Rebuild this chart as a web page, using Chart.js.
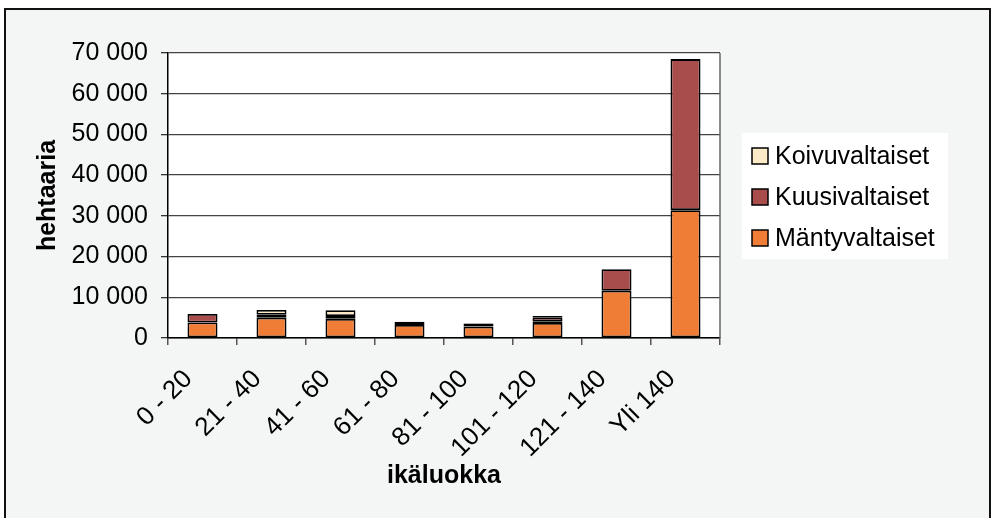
<!DOCTYPE html>
<html>
<head>
<meta charset="utf-8">
<script src="https://cdn.jsdelivr.net/npm/chart.js@4.4.1/dist/chart.umd.min.js"></script>
<style>
	html, body { margin: 0; padding: 0; background: #fff; }
	#wrap { width: 991px; height: 518px; }
</style>
</head>
<body>
<div id="wrap"><canvas id="chart" width="991" height="518"></canvas></div>
<script>
const categories = ['0 - 20', '21 - 40', '41 - 60', '61 - 80', '81 - 100', '101 - 120', '121 - 140', 'Yli 140'];
const mantyvaltaiset = [3800, 5000, 4700, 3200, 2800, 3700, 11600, 31400];
const muut = [0, 0, 0, 0, 0, 400, 0, 0];
const kuusivaltaiset = [2100, 700, 700, 700, 700, 1000, 5300, 37100];
const koivuvaltaiset = [0, 1200, 1400, 100, 100, 300, 0, 0];
const yMax = 70000;
const yStep = 10000;

const FONT = 'Liberation Sans, Arial, sans-serif';

// frame, grey background, white plot area
const backdrop = {
	id: 'backdrop',
	beforeDraw(chart) {
		const { ctx, chartArea: a } = chart;
		ctx.save();
		ctx.fillStyle = '#ffffff';
		ctx.fillRect(0, 0, chart.width, chart.height);
		ctx.fillStyle = '#f4f6f5';
		ctx.fillRect(5, 9, 985, 520);
		ctx.strokeStyle = '#111';
		ctx.lineWidth = 2;
		ctx.strokeRect(5, 9, 985, 520);
		ctx.fillStyle = '#ffffff';
		ctx.fillRect(a.left, a.top, a.right - a.left, a.bottom - a.top);
		ctx.restore();
	},
	afterDatasetsDraw(chart) {
		const { ctx, chartArea: a } = chart;
		ctx.save();
		ctx.strokeStyle = '#666';
		ctx.lineWidth = 1.5;
		ctx.beginPath();
		ctx.moveTo(a.right, a.top);
		ctx.lineTo(a.right, a.bottom);
		ctx.stroke();
		ctx.restore();
	}
};

// excel style legend box on the right
const boxLegend = {
	id: 'boxLegend',
	afterDraw(chart) {
		const { ctx } = chart;
		const items = chart.data.datasets.filter(d => d.label).reverse();
		ctx.save();
		ctx.fillStyle = '#ffffff';
		ctx.fillRect(742, 133, 206, 126);
		ctx.font = '25px ' + FONT;
		ctx.textBaseline = 'middle';
		items.forEach((d, i) => {
			const y = 156 + i * 41;
			ctx.fillStyle = d.backgroundColor;
			ctx.fillRect(752, y - 8, 16, 16);
			ctx.strokeStyle = '#000';
			ctx.lineWidth = 1.5;
			ctx.strokeRect(752, y - 8, 16, 16);
			ctx.fillStyle = '#000';
			ctx.fillText(d.label, 775, y + 1);
		});
		ctx.restore();
	}
};

const bar = { borderColor: '#000', borderWidth: 1.8, borderSkipped: false, barPercentage: 0.435, categoryPercentage: 1 };

new Chart(document.getElementById('chart'), {
	type: 'bar',
	data: {
		labels: categories,
		datasets: [
			{ label: 'Mäntyvaltaiset', data: mantyvaltaiset, backgroundColor: '#f07d35', ...bar },
			{ label: '', data: muut, backgroundColor: '#c8287c', ...bar },
			{ label: 'Kuusivaltaiset', data: kuusivaltaiset, backgroundColor: '#a84d4c', ...bar },
			{ label: 'Koivuvaltaiset', data: koivuvaltaiset, backgroundColor: '#fdebc8', ...bar },
		]
	},
	options: {
		responsive: false,
		animation: false,
		layout: { padding: { top: 53, right: 271, bottom: 0, left: 0 } },
		plugins: {
			legend: { display: false },
			tooltip: { enabled: false }
		},
		scales: {
			x: {
				stacked: true,
				afterFit: (scale) => { scale.height = 180; },
				grid: { drawOnChartArea: false, offset: true, tickLength: 7, color: '#555', lineWidth: 1.5 },
				border: { color: '#000', width: 1.5 },
				ticks: {
					color: '#000', font: { family: FONT, size: 26 },
					minRotation: 45, maxRotation: 45, padding: 19, labelOffset: -14, autoSkip: false
				},
				title: {
					display: true, text: 'ikäluokka', color: '#000',
					font: { family: FONT, size: 25, weight: 'bold' },
					padding: { top: 0, bottom: 27 }
				}
			},
			y: {
				stacked: true,
				min: 0,
				max: yMax,
				afterFit: (scale) => { scale.width = 168; },
				grid: { color: '#444', lineWidth: 1.3, tickLength: 7, tickColor: '#333' },
				border: { color: '#000', width: 1.5 },
				ticks: {
					stepSize: yStep, color: '#000', padding: 13,
					font: { family: FONT, size: 25 },
					callback: (v) => String(v).replace(/\B(?=(\d{3})+(?!\d))/g, ' ')
				},
				title: {
					display: true, text: 'hehtaaria', color: '#000',
					font: { family: FONT, size: 25, weight: 'bold' },
					padding: { top: 33, bottom: 0 }
				}
			}
		}
	},
	plugins: [backdrop, boxLegend]
});
</script>
</body>
</html>
